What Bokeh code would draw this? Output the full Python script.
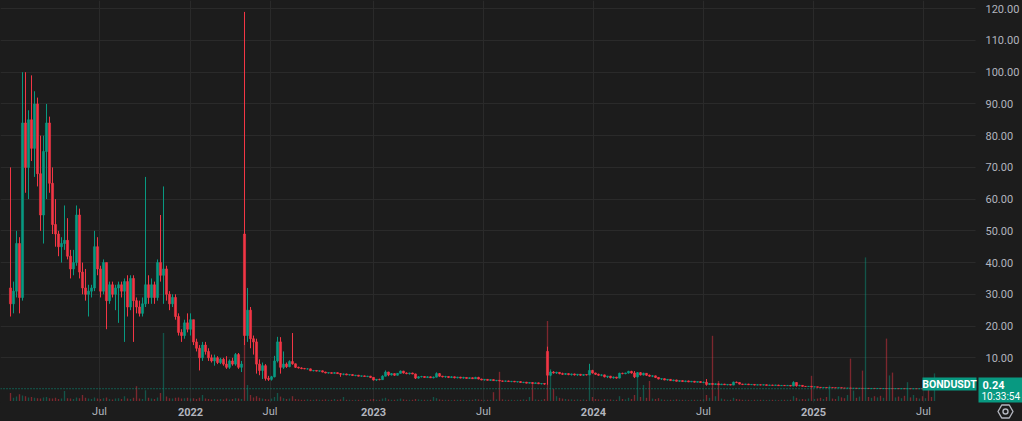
import numpy as np
from bokeh.plotting import figure
from bokeh.models import Range1d, FixedTicker, ColumnDataSource, GlobalInlineStyleSheet
from bokeh.core.properties import value
from bokeh.embed import file_html
from bokeh.resources import INLINE

# ---------------- data (one candle per slot) ----------------
opens = [
    32, 27, 31, 46, 29, 84, 70, 85, 76, 90,
    68, 55, 75, 84, 65, 52, 49, 45, 46, 47,
    42, 38, 40, 55, 37, 32, 30, 31, 32, 45,
    38, 31, 40, 28, 33, 30, 32, 33, 31, 34,
    26, 35, 28, 26, 24, 27, 33, 29, 33, 29,
    40, 36, 38, 30, 27, 29, 23, 18, 17, 21,
    19, 22, 15, 13, 10, 14, 12, 10, 9, 10,
    8.5, 9.5, 8, 7, 9, 8, 11, 7, 49, 17,
    25, 16, 15, 8, 6, 7.5, 3.5, 3.2, 4, 9,
    15, 7, 8, 7.2, 8.8, 8.1, 7, 6.8, 6.6, 6.5,
    6.5, 5.9, 6.0, 5.8, 5.9, 5.5, 5.2, 5.3, 5.1, 5.3,
    5.0, 4.8, 4.9, 4.6, 4.7, 4.4, 4.5, 4.2, 4.3, 4.1,
    4.2, 3.8, 3.0, 3.2, 3.1, 4.2, 5.5, 4.6, 5.0, 4.5,
    5.1, 5.8, 5.2, 5.0, 5.2, 4.9, 3.6, 4.0, 4.1, 3.8,
    4.0, 3.7, 3.9, 5.0, 4.2, 4.0, 4.1, 3.8, 4.0, 3.7,
    3.9, 3.6, 3.8, 3.5, 3.7, 3.4, 3.8, 3.3, 3.0, 3.2,
    2.9, 3.1, 2.8, 2.9, 2.7, 2.6, 2.7, 2.5, 2.6, 2.4,
    2.5, 2.2, 2.3, 2.0, 2.2, 1.9, 2.1, 1.8, 1.9, 12,
    4.5, 5.5, 5.2, 5.4, 5.0, 4.8, 5.0, 4.7, 4.9, 4.6,
    4.8, 4.5, 4.7, 4.6, 6.0, 5.2, 4.8, 4.5, 4.6, 4.0,
    4.2, 3.7, 3.9, 3.6, 5.1, 5.0, 5.2, 5.7, 5.2, 4.0,
    5.3, 4.6, 5.1, 4.5, 4.2, 4.3, 3.8, 3.3, 3.4, 3.0,
    3.2, 2.8, 3.0, 2.6, 2.8, 2.5, 2.7, 2.4, 2.6, 2.3,
    2.5, 2.2, 2.3, 1.6, 1.9, 1.6, 1.8, 1.5, 1.7, 1.5,
    1.6, 1.4, 2.3, 2.2, 1.7, 1.6, 1.7, 1.5, 1.6, 1.4,
    1.5, 1.4, 1.5, 1.3, 1.4, 1.3, 1.4, 1.2, 1.3, 1.2,
    1.3, 1.1, 2.2, 1.2, 1.3, 1.0, 0.95, 1.0, 0.8, 0.85,
    0.7, 0.6, 0.65, 0.55, 0.6, 0.55, 0.5, 0.55, 0.45, 0.42,
    0.45, 0.38, 0.4, 0.35, 0.38, 0.33, 0.36, 0.32, 0.35, 0.31,
    0.33, 0.3, 0.32, 0.28, 0.3, 0.27, 0.29, 0.26, 0.28, 0.25,
    0.27, 0.24, 0.26, 0.25, 0.26, 0.23, 0.25, 0.23, 0.22,
]
highs = [
    70, 34, 50, 48, 100, 100, 88, 99, 94, 92,
    80, 80, 90, 86, 70, 60, 50, 48, 58, 54,
    44, 44, 58, 57, 40, 38, 33, 33, 50, 48,
    39, 41, 40, 34, 34, 33, 34, 34, 35, 36,
    36, 36, 29, 28, 29, 67, 36, 35, 34, 41,
    55, 64, 39, 31, 30, 30, 24, 19, 22, 24,
    24, 22, 16, 14, 15, 15, 13, 11, 11, 10.5,
    10, 10, 10.5, 9.5, 10, 11.5, 11.5, 9, 119, 32,
    26, 17, 16, 9.5, 8.5, 8, 4.3, 4.3, 10.6, 16.6,
    16.5, 12, 8.5, 9.2, 17.8, 8.2, 7.2, 7, 6.8, 6.7,
    6.6, 6.1, 6.1, 6.0, 6.0, 5.6, 5.4, 5.4, 5.5, 5.4,
    5.2, 5.0, 5.0, 4.8, 4.8, 4.6, 4.6, 4.4, 4.4, 4.3,
    4.3, 3.9, 3.3, 3.4, 4.5, 6.0, 5.6, 5.2, 5.1, 5.2,
    6.0, 5.9, 5.4, 5.3, 5.3, 5.0, 4.2, 4.3, 4.2, 4.2,
    4.1, 4.1, 5.4, 5.2, 4.3, 4.3, 4.2, 4.2, 4.1, 4.0,
    4.0, 4.0, 3.9, 3.8, 3.8, 4.0, 4.0, 3.4, 3.3, 3.3,
    3.2, 3.2, 3.0, 3.0, 2.8, 2.8, 2.8, 2.7, 2.7, 2.6,
    2.6, 2.4, 2.4, 2.3, 2.3, 2.2, 2.2, 2.0, 2.0, 13.5,
    6.0, 5.8, 5.6, 5.5, 5.3, 5.2, 5.1, 5.0, 5.0, 4.9,
    4.9, 4.8, 4.8, 8.1, 6.2, 5.3, 5.0, 4.8, 4.7, 4.3,
    4.3, 4.1, 4.0, 5.3, 5.3, 5.3, 5.9, 5.9, 5.8, 5.5,
    5.5, 5.3, 5.2, 4.7, 4.5, 4.4, 3.9, 3.5, 3.5, 3.3,
    3.3, 3.1, 3.1, 2.9, 2.9, 2.8, 2.8, 2.7, 2.7, 2.6,
    2.6, 2.5, 3.3, 2.0, 2.0, 1.9, 1.9, 1.8, 1.8, 1.7,
    1.7, 2.5, 2.5, 2.3, 1.8, 1.8, 1.8, 1.7, 1.7, 1.6,
    1.6, 1.6, 1.6, 1.5, 1.5, 1.5, 1.5, 1.4, 1.4, 1.4,
    1.4, 2.6, 2.3, 1.5, 1.4, 1.1, 1.1, 1.05, 0.9, 0.9,
    0.75, 0.7, 0.7, 0.65, 0.65, 0.6, 0.6, 0.6, 0.5, 0.5,
    0.5, 0.45, 0.45, 0.42, 0.42, 0.4, 0.4, 0.38, 0.38, 0.36,
    0.36, 0.34, 0.35, 0.32, 0.33, 0.31, 0.32, 0.3, 0.31, 0.29,
    0.3, 0.28, 0.29, 0.28, 0.28, 0.27, 0.27, 0.26, 0.26,
]
lows = [
    23, 24, 29, 24, 28, 62, 60, 72, 67, 64,
    50, 46, 60, 62, 49, 45, 42, 40, 44, 41,
    35, 36, 39, 35, 30, 28, 23, 29, 31, 36,
    29, 30, 19, 27, 29, 25, 21, 29, 15, 23,
    25, 15, 24, 23, 23, 26, 27, 27, 27, 28,
    34, 27, 28, 25, 26, 22, 17, 15, 16, 18,
    17, 14, 12, 6, 9, 11, 9, 8.5, 7.5, 8,
    8, 7.5, 6.5, 6.5, 7.5, 7.5, 6.5, 5.5, 14, 15,
    13, 11, 5, 4.5, 3.3, 2.8, 2.7, 2.8, 3.8, 8.5,
    5, 6.5, 6.8, 7, 7.8, 6.8, 6.6, 6.4, 6.4, 6.3,
    5.8, 5.7, 5.7, 5.6, 5.4, 5.1, 5.0, 5.0, 5.0, 4.9,
    4.0, 4.5, 4.5, 4.4, 4.3, 4.2, 4.1, 4.0, 4.0, 3.9,
    3.6, 2.8, 2.7, 2.9, 3.0, 4.1, 4.2, 4.4, 4.3, 4.4,
    5.0, 5.0, 4.8, 4.7, 4.8, 3.3, 3.4, 3.8, 3.7, 3.6,
    3.6, 3.5, 3.8, 4.0, 3.8, 3.7, 3.6, 3.6, 3.5, 3.5,
    3.5, 3.4, 3.4, 3.3, 3.3, 3.3, 3.2, 2.9, 2.8, 2.8,
    2.7, 2.7, 2.6, 2.6, 2.4, 2.4, 2.4, 2.3, 2.3, 2.2,
    2.1, 2.0, 1.9, 1.9, 1.8, 1.8, 1.7, 1.6, 1.5, 1.5,
    4.2, 5.0, 4.9, 4.8, 4.6, 4.6, 4.5, 4.4, 4.4, 4.3,
    4.3, 4.3, 4.4, 4.5, 5.0, 4.6, 4.3, 4.2, 3.8, 3.6,
    3.5, 3.4, 3.4, 3.5, 4.8, 4.8, 5.0, 5.0, 3.6, 3.8,
    4.4, 4.4, 4.3, 4.0, 3.9, 3.6, 3.2, 3.0, 2.9, 2.8,
    2.7, 2.6, 2.5, 2.4, 2.4, 2.3, 2.3, 2.3, 2.2, 2.2,
    2.1, 2.0, 1.2, 1.4, 1.5, 1.4, 1.4, 1.4, 1.4, 1.3,
    1.3, 1.35, 2.0, 1.6, 1.4, 1.5, 1.4, 1.4, 1.3, 1.3,
    1.3, 1.3, 1.2, 1.2, 1.2, 1.2, 1.1, 1.1, 1.1, 1.1,
    1.0, 1.0, 0.9, 1.0, 0.9, 0.8, 0.8, 0.75, 0.7, 0.65,
    0.55, 0.55, 0.5, 0.5, 0.5, 0.45, 0.45, 0.4, 0.38, 0.35,
    0.35, 0.33, 0.32, 0.3, 0.3, 0.28, 0.3, 0.28, 0.29, 0.27,
    0.28, 0.26, 0.25, 0.24, 0.25, 0.24, 0.25, 0.23, 0.24, 0.22,
    0.23, 0.22, 0.23, 0.22, 0.22, 0.21, 0.22, 0.21, 0.21,
]
closes = [
    27, 31, 46, 29, 84, 70, 85, 76, 90, 68,
    55, 75, 84, 65, 52, 49, 45, 46, 47, 42,
    38, 40, 55, 37, 32, 30, 31, 32, 45, 38,
    31, 40, 28, 33, 30, 32, 33, 31, 34, 26,
    35, 28, 26, 24, 27, 33, 29, 33, 29, 40,
    36, 38, 30, 27, 29, 23, 18, 17, 21, 19,
    22, 15, 13, 10, 14, 12, 10, 9, 10, 8.5,
    9.5, 8, 7, 9, 8, 11, 7, 8, 17, 25,
    16, 15, 8, 6, 7.5, 3.5, 3.2, 4, 9, 15,
    7, 8, 7.2, 8.8, 8.1, 7, 6.8, 6.6, 6.5, 6.5,
    5.9, 6.0, 5.8, 5.9, 5.5, 5.2, 5.3, 5.1, 5.3, 5.0,
    4.8, 4.9, 4.6, 4.7, 4.4, 4.5, 4.2, 4.3, 4.1, 4.2,
    3.8, 3.0, 3.2, 3.1, 4.2, 5.5, 4.6, 5.0, 4.5, 5.1,
    5.8, 5.2, 5.0, 5.2, 4.9, 3.6, 4.0, 4.1, 3.8, 4.0,
    3.7, 3.9, 5.0, 4.2, 4.0, 4.1, 3.8, 4.0, 3.7, 3.9,
    3.6, 3.8, 3.5, 3.7, 3.4, 3.8, 3.3, 3.0, 3.2, 2.9,
    3.1, 2.8, 2.9, 2.7, 2.6, 2.7, 2.5, 2.6, 2.4, 2.5,
    2.2, 2.3, 2.0, 2.2, 1.9, 2.1, 1.8, 1.9, 1.7, 4.5,
    5.5, 5.2, 5.4, 5.0, 4.8, 5.0, 4.7, 4.9, 4.6, 4.8,
    4.5, 4.7, 4.6, 6.0, 5.2, 4.8, 4.5, 4.6, 4.0, 4.2,
    3.7, 3.9, 3.6, 5.1, 5.0, 5.2, 5.7, 5.2, 4.0, 5.3,
    4.6, 5.1, 4.5, 4.2, 4.3, 3.8, 3.3, 3.4, 3.0, 3.2,
    2.8, 3.0, 2.6, 2.8, 2.5, 2.7, 2.4, 2.6, 2.3, 2.5,
    2.2, 2.3, 1.6, 1.9, 1.6, 1.8, 1.5, 1.7, 1.5, 1.6,
    1.4, 2.3, 2.2, 1.7, 1.6, 1.7, 1.5, 1.6, 1.4, 1.5,
    1.4, 1.5, 1.3, 1.4, 1.3, 1.4, 1.2, 1.3, 1.2, 1.3,
    1.1, 2.2, 1.2, 1.3, 1.0, 0.95, 1.0, 0.8, 0.85, 0.7,
    0.6, 0.65, 0.55, 0.6, 0.55, 0.5, 0.55, 0.45, 0.42, 0.45,
    0.38, 0.4, 0.35, 0.38, 0.33, 0.36, 0.32, 0.35, 0.31, 0.33,
    0.3, 0.32, 0.28, 0.3, 0.27, 0.29, 0.26, 0.28, 0.25, 0.27,
    0.24, 0.26, 0.25, 0.26, 0.23, 0.25, 0.23, 0.22, 0.24,
]
volumes = [
    2.0, 0.8, 1.1, 1.7, 1.4, 1.2, 0.9, 1.0, 0.8, 0.7,
    0.6, 0.9, 1.0, 0.7, 0.6, 0.8, 0.5, 0.6, 2.5, 0.7,
    0.6, 0.5, 0.9, 0.7, 1.5, 0.8, 0.6, 0.5, 0.9, 0.6,
    0.5, 0.7, 0.9, 0.5, 0.4, 0.6, 0.7, 0.5, 1.2, 0.6,
    0.5, 0.8, 3.7, 0.6, 0.5, 2.7, 0.8, 0.6, 0.5, 0.9,
    2.0, 17.0, 1.1, 0.7, 0.6, 0.8, 0.9, 0.6, 0.7, 0.8,
    0.6, 0.7, 0.5, 0.8, 1.5, 0.6, 0.5, 0.4, 0.5, 0.4,
    0.5, 0.4, 0.6, 0.4, 0.5, 0.7, 0.6, 0.5, 15.5, 4.0,
    1.5, 0.9, 1.2, 0.8, 0.6, 0.5, 0.4, 0.6, 1.0, 2.0,
    1.1, 0.7, 0.5, 0.6, 1.2, 0.5, 0.4, 0.3, 0.3, 0.4,
    0.3, 0.3, 0.4, 0.3, 0.3, 0.4, 0.3, 0.3, 0.5, 0.3,
    0.4, 1.0, 0.3, 0.3, 0.2, 0.3, 0.3, 0.2, 0.3, 0.3,
    0.4, 0.5, 0.3, 0.3, 0.6, 0.8, 0.4, 0.3, 0.3, 0.4,
    0.6, 0.4, 0.3, 0.3, 0.3, 0.5, 0.4, 0.3, 0.3, 0.3,
    0.3, 1.0, 0.7, 0.4, 0.3, 0.3, 0.3, 0.2, 0.3, 0.3,
    0.3, 0.3, 0.2, 0.3, 0.3, 0.5, 0.4, 0.3, 0.3, 0.3,
    0.3, 2.2, 0.4, 7.3, 0.4, 0.3, 0.3, 0.3, 0.2, 0.3,
    0.3, 0.4, 0.3, 1.0, 4.6, 0.4, 0.3, 0.3, 0.5, 20.0,
    8.0, 3.0, 1.2, 0.8, 0.6, 0.5, 0.4, 0.4, 0.3, 0.4,
    0.3, 0.4, 0.3, 6.8, 1.0, 0.5, 0.4, 0.3, 0.5, 0.4,
    0.4, 0.3, 0.3, 1.2, 0.5, 0.4, 0.8, 0.5, 1.5, 6.3,
    1.0, 4.0, 0.8, 5.0, 0.6, 0.5, 0.7, 0.4, 0.3, 0.3,
    0.3, 0.3, 0.4, 0.3, 0.3, 0.3, 0.2, 0.3, 0.3, 0.3,
    0.3, 0.4, 1.5, 0.8, 16.3, 1.2, 5.0, 0.6, 0.4, 0.3,
    0.3, 0.8, 0.5, 0.4, 0.3, 0.3, 0.3, 0.2, 0.3, 0.3,
    0.3, 0.3, 0.2, 0.3, 0.3, 0.3, 0.2, 0.3, 0.3, 0.3,
    0.3, 1.2, 0.8, 0.4, 0.5, 0.4, 0.6, 6.3, 0.5, 0.6,
    0.8, 0.5, 1.0, 3.9, 0.6, 0.5, 1.2, 0.9, 0.7, 1.5,
    10.6, 2.6, 0.8, 1.1, 7.6, 35.9, 1.0, 0.8, 1.2, 0.9,
    1.3, 0.8, 15.6, 6.4, 7.1, 0.9, 1.1, 0.7, 1.3, 4.7,
    0.9, 1.5, 0.8, 0.6, 1.2, 0.7, 4.4, 1.0, 6.9,
]

# time-axis labels and the bar slot at which each falls
time_labels = ["Jul", "2022", "Jul", "2023", "Jul", "2024", "Jul", "2025", "Jul"]
time_positions = [29.67, 60.0, 86.5, 121.0, 157.67, 194.33, 231.0, 267.67, 304.33]
price_ticks = [10, 20, 30, 40, 50, 60, 70, 80, 90, 100, 110, 120]
symbol = "BONDUSDT"
last_price = 0.24
countdown = "10:33:54"

# ---------------- layout helpers (screen pixel -> data) ----------------
W, H = 1022, 421
SLOT_PX, SLOT_OFF = 3.0, 10.0          # px per bar slot, px of slot 0
ZERO_PY, PX_PER_UNIT = 389.0, 3.173    # py of price 0, px per price unit
VOL_BASE_PY, VOL_PX = 400.5, 4.0
PANE_RIGHT, PANE_BOTTOM = 975, 402     # price pane edges (px)


def xd(px):
    return (px - SLOT_OFF) / SLOT_PX


def yd(py):
    return (ZERO_PY - py) / PX_PER_UNIT


# ---------------- styling ----------------
BG = "#1c1c1c"
GRID = "#2a2a2a"
UP = "#089981"
DOWN = "#f23645"
TXT = "#b2b5be"
FONT = "Roboto"

o = np.array(opens, dtype=float)
h = np.array(highs, dtype=float)
l = np.array(lows, dtype=float)
c = np.array(closes, dtype=float)
v = np.array(volumes, dtype=float)
idx = np.arange(len(o))
is_up = c >= o
col = np.where(is_up, UP, DOWN)
vcol = np.where(is_up, "rgba(8,153,129,0.45)", "rgba(242,54,69,0.45)")

src = ColumnDataSource(dict(x=idx, o=o, h=h, l=l, c=c, v=v,
                            top=np.maximum(o, c), bot=np.minimum(o, c),
                            col=col, vcol=vcol))

p = figure(width=W, height=H, output_backend="svg", toolbar_location=None,
           x_range=Range1d(xd(0), xd(W)), y_range=Range1d(yd(H), yd(0)),
           min_border_left=0, min_border_top=0, min_border_right=0, min_border_bottom=0,
           background_fill_color=BG, border_fill_color=BG, outline_line_color=None)
p.stylesheets = [GlobalInlineStyleSheet(css="html, body { margin: 0; padding: 0; background: #1c1c1c; overflow: hidden; }")]

p.extra_y_ranges = {"vol": Range1d((VOL_BASE_PY - H) / VOL_PX, VOL_BASE_PY / VOL_PX)}

p.xaxis.visible = False
p.yaxis.visible = False
p.xgrid.ticker = FixedTicker(ticks=time_positions)
p.ygrid.ticker = FixedTicker(ticks=price_ticks)
p.xgrid.grid_line_color = GRID
p.ygrid.grid_line_color = GRID

# volume
p.vbar(x="x", top="v", bottom=0, width=0.45, source=src, y_range_name="vol",
       fill_color="vcol", line_color=None)

# candles
p.segment(x0="x", y0="h", x1="x", y1="l", source=src, line_color="col", line_width=1)
p.vbar(x="x", top="top", bottom="bot", width=0.7, source=src,
       fill_color="col", line_color="col", line_width=0.6)

# last-price dotted line across the price pane
p.segment(x0=[xd(0)], y0=[last_price], x1=[xd(PANE_RIGHT)], y1=[last_price],
          line_color=UP, line_dash="1 2", line_width=1)

# axis strips (price scale on the right, time scale below)
p.quad(left=[xd(PANE_RIGHT)], right=[xd(W)], bottom=[yd(H)], top=[yd(0)],
       fill_color=BG, line_color=None)
p.quad(left=[xd(0)], right=[xd(PANE_RIGHT)], bottom=[yd(H)], top=[yd(PANE_BOTTOM)],
       fill_color=BG, line_color=None)

# price scale labels
p.text(x=[xd(985)] * len(price_ticks), y=price_ticks,
       text=[f"{t:.2f}" for t in price_ticks],
       text_align="left", text_baseline="middle", text_color=TXT,
       text_font=value(FONT), text_font_size="11px")

# time scale labels
months = [(x, t) for x, t in zip(time_positions, time_labels) if not t.isdigit()]
years = [(x, t) for x, t in zip(time_positions, time_labels) if t.isdigit()]
p.text(x=[m[0] for m in months], y=[yd(411)] * len(months), text=[m[1] for m in months],
       text_align="center", text_baseline="middle", text_color=TXT,
       text_font=value(FONT), text_font_size="11px")
p.text(x=[m[0] for m in years], y=[yd(411)] * len(years), text=[m[1] for m in years],
       text_align="center", text_baseline="middle", text_color=TXT,
       text_font=value(FONT), text_font_size="11px", text_font_style="bold")

# symbol tag
p.quad(left=[xd(922)], right=[xd(976)], bottom=[yd(390)], top=[yd(377)],
       fill_color=UP, line_color=None)
p.text(x=[xd(949)], y=[yd(383.8)], text=[symbol], text_align="center", text_baseline="middle",
       text_color="white", text_font=value(FONT), text_font_size="10.5px", text_font_style="bold")

# last price tag on the scale
p.quad(left=[xd(978)], right=[xd(W)], bottom=[yd(402)], top=[yd(377)],
       fill_color=UP, line_color=None)
p.text(x=[xd(982)], y=[yd(384)], text=[f"{last_price:.2f}"], text_align="left",
       text_baseline="middle", text_color="white", text_font=value(FONT),
       text_font_size="11px", text_font_style="bold")
p.text(x=[xd(981)], y=[yd(396)], text=[countdown], text_align="left",
       text_baseline="middle", text_color="white", text_font=value(FONT),
       text_font_size="10px")

# settings icon
p.scatter(x=[xd(1005)], y=[yd(411)], marker="hex", size=15, fill_alpha=0,
          line_color=TXT, line_width=1.4)
p.scatter(x=[xd(1005)], y=[yd(411)], marker="circle", size=5, fill_alpha=0,
          line_color=TXT, line_width=1.4)

open("out.html", "w").write(file_html(p, INLINE))
